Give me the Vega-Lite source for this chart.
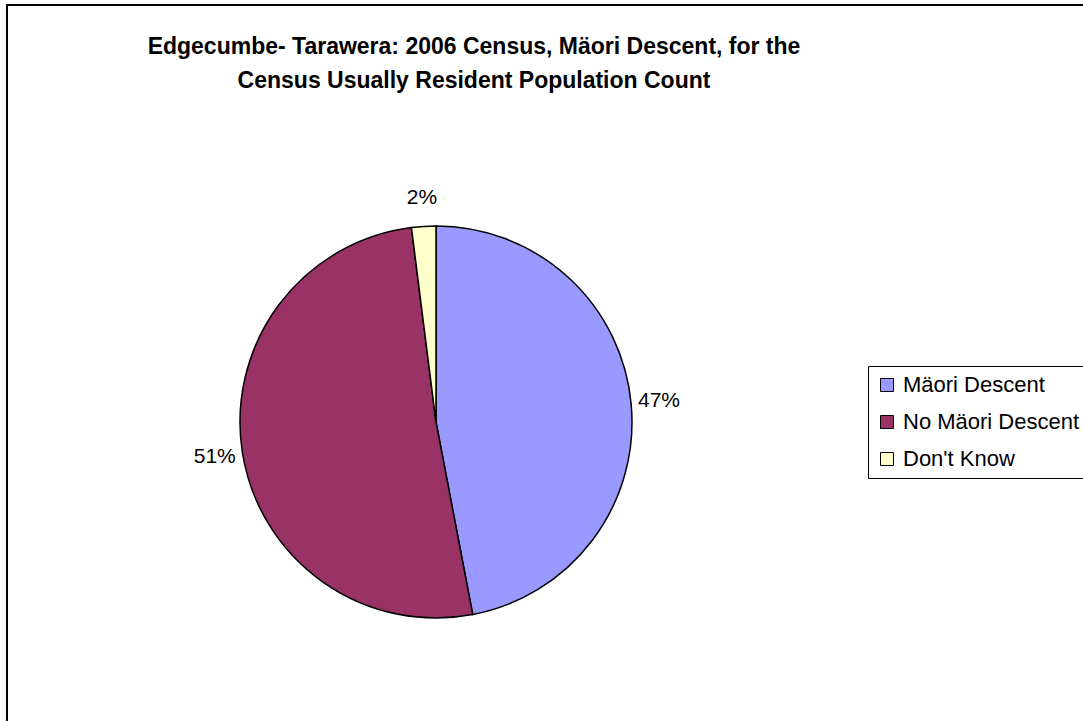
{
  "$schema": "https://vega.github.io/schema/vega-lite/v6.json",
  "width": 400,
  "height": 400,
  "autosize": {"type": "none"},
  "padding": {"left": 236, "top": 222, "right": 447, "bottom": 99},
  "background": "white",
  "title": {
    "text": ["Edgecumbe- Tarawera: 2006 Census, Mäori Descent, for the", "Census Usually Resident Population Count"],
    "anchor": "start",
    "align": "center",
    "dx": 468,
    "offset": -89,
    "baseline": "top",
    "font": "Liberation Sans",
    "fontSize": 23,
    "fontWeight": "bold",
    "lineHeight": 34,
    "color": "black"
  },
  "data": {
    "values": [
      {"descent": "Mäori Descent", "percent": 47, "label": "47%", "rank": 1},
      {"descent": "No Mäori Descent", "percent": 51, "label": "51%", "rank": 2},
      {"descent": "Don't Know", "percent": 2, "label": "2%", "rank": 3}
    ]
  },
  "layer": [
    {
      "data": {"values": [{}]},
      "mark": {"type": "rect", "fill": "white", "stroke": "black", "strokeWidth": 2},
      "encoding": {
        "x": {"datum": -0.5725, "type": "quantitative", "scale": {"domain": [0, 1], "nice": false, "zero": false}, "axis": null},
        "x2": {"datum": 2.1475},
        "y": {"datum": 1.5425, "type": "quantitative", "scale": {"domain": [0, 1], "nice": false, "zero": false}, "axis": null},
        "y2": {"datum": -0.2825}
      }
    },
    {
      "mark": {"type": "arc", "outerRadius": 196, "stroke": "black", "strokeWidth": 1.5},
      "encoding": {
        "theta": {"field": "percent", "type": "quantitative", "stack": true},
        "order": {"field": "rank", "type": "quantitative"},
        "color": {
          "field": "descent",
          "type": "nominal",
          "scale": {
            "domain": ["Mäori Descent", "No Mäori Descent", "Don't Know"],
            "range": ["#9999FF", "#993366", "#FFFFCC"]
          },
          "legend": {
            "orient": "none",
            "legendX": 632,
            "legendY": 144,
            "title": null,
            "strokeColor": "black",
            "fillColor": "white",
            "padding": 8,
            "symbolType": "square",
            "symbolSize": 169,
            "symbolStrokeColor": "black",
            "symbolStrokeWidth": 1,
            "labelFont": "Liberation Sans",
            "labelFontSize": 22,
            "labelColor": "black",
            "labelOffset": 5,
            "labelLimit": 400,
            "rowPadding": 15
          }
        }
      }
    },
    {
      "mark": {"type": "text", "radius": 224, "font": "Liberation Sans", "fontSize": 21, "color": "black"},
      "encoding": {
        "theta": {"field": "percent", "type": "quantitative", "stack": true},
        "order": {"field": "rank", "type": "quantitative"},
        "text": {"field": "label", "type": "nominal"}
      }
    }
  ],
  "config": {
    "view": {"stroke": null}
  }
}
